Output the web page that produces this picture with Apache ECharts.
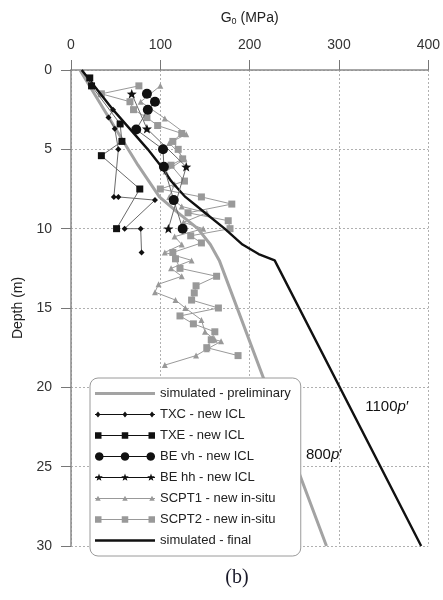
<!DOCTYPE html>
<html><head><meta charset="utf-8">
<script src="https://cdn.jsdelivr.net/npm/echarts@6/dist/echarts.min.js"></script>
<style>html,body{margin:0;padding:0;background:#fff}#c{width:443px;height:600px}</style>
</head><body><div id="c"></div>
<script>
// ---------- data ----------
const xTicks = [0, 100, 200, 300, 400];
const yTicks = [0, 5, 10, 15, 20, 25, 30];

const simPrelimDepth = [0, 2.5, 5, 6, 8, 9, 10, 11, 12, 30];
const simPrelimG     = [10, 37, 64, 75, 99, 120, 142, 156, 166, 286];

const simFinalDepth = [0, 2.5, 5, 6, 7, 8, 9, 10, 11, 11.6, 12, 30];
const simFinalG     = [12, 47, 86, 100, 112, 128, 150, 172, 192, 210, 228, 392];

const txcDepth = [2.5, 3.0, 3.7, 5.0, 8.0, 8.0, 8.2, 10.0, 10.0, 11.5];
const txcG     = [47, 42, 49, 53, 48, 53, 94, 60, 78, 79];

const txeDepth = [0.5, 1.0, 3.4, 4.5, 5.4, 7.5, 10.0];
const txeG     = [21, 23, 55, 57, 34, 77, 51];

const beVhDepth = [1.5, 2.0, 2.5, 3.75, 5.0, 6.1, 8.2, 10.0];
const beVhG     = [85, 94, 86, 73, 103, 104, 115, 125];

const beHhDepth = [1.5, 3.7, 6.1, 10.0];
const beHhG     = [68, 85, 129, 109];

const scpt1Depth = [1.0, 2.0, 3.05, 4.05, 4.6, 5.6, 6.4, 7.2, 8.0, 8.6, 9.0, 9.6, 10.0, 10.5, 11.0, 11.5, 12.0, 12.5, 13.0, 13.5, 14.0, 14.5, 15.0, 15.75, 16.5, 17.0, 17.1, 17.6, 18.0, 18.6];
const scpt1G     = [100, 78, 105, 129, 110, 127, 106, 116, 110, 124, 152, 126, 148, 116, 124, 105, 135, 112, 124, 98, 94, 117, 128, 146, 150, 161, 168, 152, 140, 105];

const scpt2Depth = [1.0, 1.5, 2.0, 2.5, 3.0, 3.5, 4.0, 4.5, 5.0, 5.6, 6.0, 7.0, 7.5, 8.0, 8.45, 9.0, 9.5, 10.0, 10.45, 10.9, 11.5, 11.9, 12.5, 13.0, 13.6, 14.05, 14.5, 15.0, 15.5, 16.0, 16.5, 17.0, 17.5, 18.0];
const scpt2G     = [76, 34, 66, 70, 85, 97, 124, 114, 120, 125, 112, 127, 100, 146, 180, 131, 176, 178, 134, 146, 114, 117, 122, 163, 140, 138, 135, 165, 122, 137, 161, 157, 152, 187];

const seriesNames = ['simulated - preliminary', 'TXC - new ICL', 'TXE - new ICL', 'BE vh - new ICL',
  'BE hh - new ICL', 'SCPT1 - new in-situ', 'SCPT2 - new in-situ', 'simulated - final'];

// ---------- helpers ----------
const pairs = (g, d) => g.map((v, i) => [v, d[i]]);
const f = v => v.toFixed(2);
const rectP = (x0, y0, x1, y1) => `M${f(x0)} ${f(y0)}L${f(x1)} ${f(y0)}L${f(x1)} ${f(y1)}L${f(x0)} ${f(y1)}Z`;
const polyP = pts => 'M' + pts.map(p => f(p[0]) + ' ' + f(p[1])).join('L') + 'Z';
function shapeP(shape, cx, cy, s) {
  const r = s / 2;
  if (shape === 'rect') return rectP(cx - r, cy - r, cx + r, cy + r);
  if (shape === 'diamond') return polyP([[cx, cy - r], [cx + r * 0.8, cy], [cx, cy + r], [cx - r * 0.8, cy]]);
  if (shape === 'triangle') return polyP([[cx, cy - r], [cx + r, cy + r * 0.8], [cx - r, cy + r * 0.8]]);
  if (shape === 'circle') {
    const pts = [];
    for (let k = 0; k < 24; k++) { const a = k / 24 * Math.PI * 2; pts.push([cx + r * Math.cos(a), cy + r * Math.sin(a)]); }
    return polyP(pts);
  }
  if (shape === 'star') {
    const pts = [];
    for (let k = 0; k < 10; k++) {
      const a = -Math.PI / 2 + k * Math.PI / 5; const rr = k % 2 ? r * 0.42 : r;
      pts.push([cx + rr * Math.cos(a), cy + rr * Math.sin(a)]);
    }
    return polyP(pts);
  }
  return '';
}
const IW = 60, IH = 10;
function legendIcon(shape, s, lw) {
  let d = rectP(0, 0, 0.01, 0.01) + rectP(IW - 0.01, IH - 0.01, IW, IH);
  d += rectP(0, IH / 2 - lw / 2, IW, IH / 2 + lw / 2);
  if (shape) {
    const e = Math.max(s / 2, 3);
    [e, IW / 2, IW - e].forEach(cx => { d += shapeP(shape, cx, IH / 2, s); });
  }
  return 'path://' + d;
}
const starSymbol = 'path://' + shapeP('star', 5, 5, 10);

const FONT = '"Liberation Sans", Arial, Helvetica, sans-serif';
const BLACK = '#111', DLINE = '#6a6a6a', GRAY = '#999', PRELIM = '#a3a3a3';

function markSeries(name, g, d, symbol, size, color, lineColor, z) {
  return {
    name, type: 'line', data: pairs(g, d), symbol, symbolSize: size, symbolKeepAspect: true,
    showSymbol: true, z, animation: false,
    itemStyle: { color, borderWidth: 0 },
    lineStyle: { color: lineColor, width: 1 },
    emphasis: { disabled: true }
  };
}

const chart = echarts.init(document.getElementById('c'), null, { renderer: 'canvas' });
chart.setOption({
  animation: false,
  backgroundColor: '#fff',
  grid: { left: 71, top: 70, width: 358, height: 476, containLabel: false },
  xAxis: {
    type: 'value', position: 'top', min: xTicks[0], max: xTicks[xTicks.length - 1], interval: 100,
    name: 'G{s|0} (MPa)', nameLocation: 'middle', nameGap: 44,
    nameTextStyle: { fontFamily: FONT, fontSize: 14, color: '#222', lineHeight: 16,
      rich: { s: { fontFamily: FONT, fontSize: 9, color: '#222', verticalAlign: 'bottom', lineHeight: 9 } } },
    axisLine: { show: true, onZero: false, lineStyle: { color: '#8a8a8a', width: 1.5 } },
    axisTick: { show: true, length: 10, lineStyle: { color: '#777', width: 1 } },
    axisLabel: { fontFamily: FONT, fontSize: 14, color: '#333', margin: 18 },
    splitLine: { show: true, lineStyle: { color: '#b0b0b0', width: 1, type: [2, 2] } }
  },
  yAxis: {
    type: 'value', inverse: true, min: yTicks[0], max: yTicks[yTicks.length - 1], interval: 5,
    name: 'Depth (m)', nameLocation: 'middle', nameGap: 38, nameRotate: 90,
    nameTextStyle: { fontFamily: FONT, fontSize: 14, color: '#222' },
    axisLine: { show: true, onZero: false, lineStyle: { color: '#8a8a8a', width: 1.5 } },
    axisTick: { show: true, length: 10, lineStyle: { color: '#777', width: 1 } },
    axisLabel: { fontFamily: FONT, fontSize: 14, color: '#333', margin: 19 },
    splitLine: { show: true, lineStyle: { color: '#b0b0b0', width: 1, type: [2, 2] } }
  },
  legend: {
    orient: 'vertical', left: 90, top: 378, width: 213,
    padding: [9, 10, 9, 5], itemWidth: IW, itemHeight: IH, itemGap: 8,
    backgroundColor: '#fff', borderColor: '#9a9a9a', borderWidth: 1, borderRadius: 8,
    selectedMode: false,
    textStyle: { fontFamily: FONT, fontSize: 13, color: '#222' },
    itemStyle: { borderWidth: 0 },
    data: [
      { name: seriesNames[0], icon: legendIcon(null, 0, 3), itemStyle: { color: PRELIM } },
      { name: seriesNames[1], icon: legendIcon('diamond', 6, 1), itemStyle: { color: BLACK } },
      { name: seriesNames[2], icon: legendIcon('rect', 6.5, 1), itemStyle: { color: BLACK } },
      { name: seriesNames[3], icon: legendIcon('circle', 8.5, 1), itemStyle: { color: BLACK } },
      { name: seriesNames[4], icon: legendIcon('star', 8, 1), itemStyle: { color: BLACK } },
      { name: seriesNames[5], icon: legendIcon('triangle', 5.5, 1), itemStyle: { color: GRAY } },
      { name: seriesNames[6], icon: legendIcon('rect', 6.5, 1.2), itemStyle: { color: GRAY } },
      { name: seriesNames[7], icon: legendIcon(null, 0, 2.4), itemStyle: { color: BLACK } }
    ]
  },
  graphic: [
    { type: 'text', x: 387, y: 407, z: 10, style: {
      text: '{a|1100}{i|p}{a|′}', align: 'center', verticalAlign: 'middle',
      rich: { a: { fontFamily: FONT, fontSize: 15, fill: '#111' }, i: { fontFamily: FONT, fontSize: 15, fontStyle: 'italic', fill: '#111' } } } },
    { type: 'text', x: 324, y: 455, z: 10, style: {
      text: '{a|800}{i|p}{a|′}', align: 'center', verticalAlign: 'middle',
      rich: { a: { fontFamily: FONT, fontSize: 15, fill: '#111' }, i: { fontFamily: FONT, fontSize: 15, fontStyle: 'italic', fill: '#111' } } } },
    { type: 'text', x: 237, y: 578, z: 10, style: {
      text: '(b)', align: 'center', verticalAlign: 'middle',
      font: '20px "Liberation Serif", "DejaVu Serif", serif', fill: '#1a1a2a' } }
  ],
  series: [
    markSeries(seriesNames[5], scpt1G, scpt1Depth, 'triangle', 6, GRAY, GRAY, 2),
    markSeries(seriesNames[6], scpt2G, scpt2Depth, 'rect', 7, GRAY, GRAY, 2),
    { name: seriesNames[0], type: 'line', data: pairs(simPrelimG, simPrelimDepth), showSymbol: false, symbol: 'none',
      z: 3, itemStyle: { color: PRELIM }, lineStyle: { color: PRELIM, width: 3 }, emphasis: { disabled: true } },
    { name: seriesNames[7], type: 'line', data: pairs(simFinalG, simFinalDepth), showSymbol: false, symbol: 'none',
      z: 4, itemStyle: { color: BLACK }, lineStyle: { color: BLACK, width: 2.4 }, emphasis: { disabled: true } },
    markSeries(seriesNames[1], txcG, txcDepth, 'diamond', 6, BLACK, DLINE, 5),
    markSeries(seriesNames[2], txeG, txeDepth, 'rect', 7, BLACK, DLINE, 5),
    markSeries(seriesNames[3], beVhG, beVhDepth, 'circle', 10, BLACK, DLINE, 5),
    markSeries(seriesNames[4], beHhG, beHhDepth, starSymbol, 10, BLACK, DLINE, 5)
  ]
});
</script></body></html>
